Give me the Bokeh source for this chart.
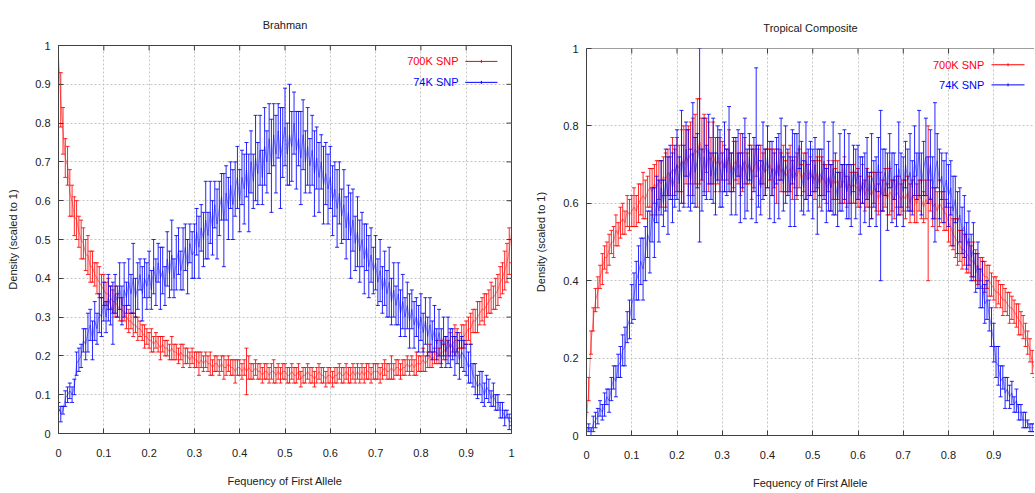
import numpy as np
from bokeh.plotting import figure
from bokeh.layouts import row, column, Spacer
from bokeh.models import ColumnDataSource, FixedTicker, Label, Range1d, Span, Title
from bokeh.embed import file_html
from bokeh.resources import INLINE

# ---------------- data (histogram bins 0..1, step 0.005) ----------------
TITLES = ["Brahman", "Tropical Composite"]
SERIES = ["700K SNP", "74K SNP"]
X_TICKS = [0, 0.1, 0.2, 0.3, 0.4, 0.5, 0.6, 0.7, 0.8, 0.9, 1.0]
Y_TICKS_LEFT = [0, 0.1, 0.2, 0.3, 0.4, 0.5, 0.6, 0.7, 0.8, 0.9, 1.0]
Y_TICKS_RIGHT = [0, 0.2, 0.4, 0.6, 0.8, 1.0]

brahman_700k = [
    .97, .86, .78, .71, .69, .62, .60, .56, .55, .52, .50, .49, .46, .46, .43, .43, .41, .40, .39, .38,
    .37, .36, .36, .35, .34, .34, .33, .32, .32, .31, .30, .29, .29, .28, .28, .27, .27, .26, .25, .25,
    .24, .24, .23, .24, .23, .22, .23, .22, .22, .21, .22, .21, .21, .20, .21, .20, .20, .20, .19, .20,
    .19, .19, .18, .19, .18, .19, .18, .18, .17, .18, .18, .17, .18, .17, .17, .18, .17, .17, .16, .17,
    .17, .16, .17, .16, .17, .16, .16, .17, .16, .16, .15, .16, .16, .15, .16, .16, .15, .16, .15, .16,
    .16, .15, .15, .16, .15, .15, .16, .14, .15, .15, .16, .15, .15, .14, .15, .16, .15, .15, .14, .15,
    .15, .14, .15, .15, .16, .15, .15, .16, .15, .15, .16, .15, .16, .15, .16, .15, .16, .16, .15, .16,
    .16, .16, .15, .16, .17, .16, .16, .17, .16, .17, .17, .16, .17, .17, .18, .17, .18, .17, .18, .18,
    .18, .19, .18, .19, .20, .19, .20, .21, .20, .21, .21, .22, .22, .23, .23, .24, .24, .24, .25, .25,
    .26, .27, .27, .29, .29, .30, .31, .32, .32, .33, .34, .35, .35, .36, .37, .39, .40, .42, .44, .47,
    .52]
brahman_700k_err = [
    .07, .07, .06, .05, .05, .06, .04, .05, .05, .04, .05, .04, .04, .05, .04, .04, .03, .04, .04, .03,
    .04, .03, .04, .03, .03, .04, .03, .03, .03, .02, .03, .03, .02, .03, .02, .03, .02, .02, .03, .02,
    .02, .03, .02, .02, .02, .03, .02, .02, .02, .02, .03, .02, .02, .02, .02, .03, .02, .02, .02, .02,
    .02, .02, .03, .02, .02, .02, .02, .03, .02, .02, .02, .02, .02, .03, .02, .02, .02, .02, .03, .02,
    .02, .02, .02, .06, .03, .02, .02, .02, .02, .02, .02, .02, .02, .02, .02, .03, .02, .02, .02, .02,
    .02, .02, .02, .02, .02, .02, .02, .02, .02, .02, .02, .02, .02, .02, .02, .02, .02, .02, .02, .02,
    .02, .02, .02, .02, .02, .02, .02, .02, .02, .02, .02, .02, .02, .02, .02, .02, .02, .02, .02, .02,
    .02, .02, .02, .02, .02, .02, .02, .03, .02, .02, .02, .02, .02, .02, .02, .02, .02, .02, .03, .02,
    .02, .03, .02, .02, .03, .02, .02, .03, .02, .03, .02, .03, .02, .03, .02, .04, .03, .02, .03, .03,
    .03, .03, .04, .03, .03, .04, .03, .03, .04, .03, .03, .04, .03, .04, .04, .04, .04, .05, .05, .06,
    .08]
brahman_74k = [
    .07, .05, .06, .09, .10, .11, .10, .12, .18, .19, .20, .24, .23, .26, .28, .24, .29, .27, .31, .30,
    .34, .30, .35, .33, .31, .36, .34, .38, .33, .37, .35, .39, .36, .40, .35, .38, .41, .36, .40, .38,
    .41, .37, .43, .39, .44, .40, .42, .38, .45, .41, .46, .40, .44, .47, .42, .45, .48, .43, .49, .46,
    .47, .52, .48, .53, .50, .55, .51, .57, .53, .59, .54, .58, .61, .55, .62, .58, .64, .59, .63, .66,
    .60, .66, .63, .68, .62, .70, .65, .71, .67, .73, .66, .74, .70, .76, .69, .77, .72, .78, .71, .75,
    .79, .72, .77, .74, .80, .73, .76, .71, .77, .70, .74, .69, .73, .67, .71, .66, .70, .64, .67, .63,
    .66, .60, .63, .58, .62, .56, .59, .53, .57, .51, .55, .49, .52, .47, .50, .45, .48, .43, .46, .42,
    .44, .39, .42, .37, .40, .36, .39, .34, .37, .33, .36, .31, .34, .30, .33, .29, .32, .28, .30, .27,
    .30, .26, .29, .25, .28, .24, .27, .23, .26, .22, .25, .21, .24, .22, .23, .20, .22, .19, .21, .20,
    .19, .17, .18, .15, .14, .12, .13, .12, .10, .12, .11, .09, .10, .08, .08, .06, .06, .04, .05, .03,
    .03]
brahman_74k_err = [
    .01, .02, .01, .02, .02, .02, .02, .02, .03, .03, .03, .03, .04, .05, .04, .05, .05, .04, .05, .05,
    .05, .04, .06, .05, .08, .05, .04, .06, .05, .07, .04, .06, .05, .09, .05, .06, .04, .07, .05, .06,
    .06, .05, .07, .06, .05, .08, .06, .05, .07, .06, .09, .05, .07, .06, .05, .08, .06, .07, .05, .06,
    .07, .06, .08, .06, .07, .10, .06, .08, .07, .06, .09, .07, .06, .12, .07, .08, .06, .09, .07, .08,
    .08, .07, .09, .07, .10, .08, .07, .11, .08, .09, .07, .10, .08, .09, .12, .08, .10, .07, .13, .09,
    .10, .08, .13, .09, .08, .10, .07, .12, .09, .08, .10, .07, .09, .11, .08, .09, .07, .10, .08, .09,
    .08, .09, .07, .10, .08, .07, .09, .08, .07, .11, .08, .07, .09, .08, .07, .09, .06, .08, .07, .06,
    .07, .06, .08, .06, .07, .06, .09, .06, .07, .05, .08, .06, .07, .05, .06, .07, .05, .06, .05, .06,
    .06, .05, .06, .05, .07, .05, .06, .04, .06, .05, .05, .04, .06, .05, .04, .05, .04, .05, .04, .04,
    .04, .04, .05, .03, .04, .03, .03, .04, .03, .03, .03, .02, .03, .02, .02, .02, .02, .02, .01, .02,
    .01]

tropical_700k = [
    .04, .12, .24, .30, .35, .37, .41, .43, .46, .46, .48, .50, .50, .53, .52, .55, .56, .55, .58, .57,
    .58, .59, .58, .60, .61, .62, .61, .63, .64, .63, .65, .64, .66, .65, .67, .66, .68, .67, .69, .68,
    .70, .69, .71, .70, .72, .71, .73, .72, .74, .73, .76, .74, .73, .75, .72, .71, .73, .70, .71, .70,
    .71, .69, .70, .72, .68, .70, .71, .69, .70, .68, .71, .69, .70, .68, .69, .71, .68, .70, .69, .68,
    .69, .70, .68, .69, .67, .70, .68, .69, .67, .68, .69, .66, .68, .67, .69, .66, .68, .67, .66, .67,
    .67, .66, .68, .65, .67, .66, .65, .67, .64, .66, .65, .66, .64, .65, .66, .63, .65, .64, .65, .64,
    .64, .63, .65, .62, .64, .63, .62, .64, .63, .61, .63, .62, .64, .61, .63, .62, .61, .63, .62, .61,
    .62, .61, .63, .60, .62, .61, .60, .62, .61, .59, .61, .60, .62, .59, .60, .58, .60, .59, .58, .57,
    .55, .54, .52, .51, .50, .49, .48, .48, .47, .46, .45, .45, .44, .43, .43, .42, .41, .41, .40, .39,
    .38, .37, .37, .36, .35, .35, .34, .33, .33, .32, .31, .30, .29, .28, .26, .24, .22, .19, .17, .15,
    .12]
tropical_700k_err = [
    .02, .03, .03, .03, .03, .04, .03, .04, .03, .04, .04, .03, .04, .04, .03, .04, .04, .03, .04, .04,
    .04, .05, .04, .05, .04, .06, .05, .04, .05, .06, .05, .07, .05, .06, .05, .07, .06, .05, .08, .06,
    .07, .06, .08, .10, .07, .09, .08, .10, .09, .14, .11, .08, .10, .07, .09, .06, .08, .07, .06, .07,
    .05, .06, .04, .07, .05, .06, .05, .04, .08, .05, .06, .04, .05, .07, .05, .04, .06, .05, .04, .06,
    .05, .04, .06, .05, .07, .04, .05, .06, .04, .05, .06, .05, .04, .06, .05, .04, .05, .06, .04, .05,
    .04, .05, .04, .06, .05, .04, .05, .04, .06, .05, .04, .05, .04, .05, .06, .04, .05, .04, .05, .04,
    .05, .04, .05, .04, .05, .04, .06, .04, .05, .04, .05, .04, .05, .04, .06, .04, .05, .04, .05, .04,
    .04, .05, .04, .05, .04, .06, .05, .04, .05, .04, .05, .20, .04, .05, .04, .05, .06, .04, .05, .04,
    .05, .05, .04, .05, .06, .04, .05, .04, .05, .04, .04, .05, .04, .04, .03, .04, .04, .03, .04, .03,
    .03, .04, .03, .03, .04, .03, .03, .04, .03, .03, .03, .04, .03, .03, .03, .03, .03, .03, .02, .02,
    .02]
tropical_74k = [
    .01, .02, .01, .03, .04, .05, .07, .06, .08, .10, .09, .12, .15, .14, .18, .19, .22, .23, .28, .30,
    .34, .36, .40, .42, .45, .43, .47, .52, .50, .57, .55, .61, .58, .64, .60, .66, .62, .68, .64, .67,
    .70, .65, .72, .67, .74, .69, .66, .73, .68, .71, .75, .66, .72, .68, .74, .67, .71, .65, .73, .69,
    .66, .72, .68, .74, .65, .70, .67, .73, .64, .71, .69, .66, .72, .65, .70, .75, .67, .64, .71, .68,
    .72, .66, .69, .64, .71, .67, .74, .65, .70, .68, .63, .72, .66, .70, .75, .67, .64, .71, .66, .69,
    .65, .70, .63, .68, .66, .71, .62, .67, .64, .69, .65, .61, .68, .64, .70, .63, .67, .62, .69, .65,
    .68, .62, .66, .64, .69, .61, .67, .65, .63, .70, .62, .66, .68, .63, .71, .64, .67, .62, .69, .66,
    .63, .70, .66, .68, .64, .71, .67, .73, .65, .69, .72, .66, .70, .64, .68, .71, .65, .67, .63, .66,
    .62, .64, .58, .61, .55, .57, .53, .54, .49, .51, .46, .48, .42, .44, .38, .39, .34, .35, .31, .28,
    .24, .19, .18, .14, .15, .11, .12, .10, .11, .08, .09, .06, .06, .04, .04, .03, .02, .02, .02, .01,
    .01]
tropical_74k_err = [
    .01, .01, .01, .02, .02, .02, .02, .02, .03, .02, .03, .03, .03, .04, .03, .04, .04, .05, .04, .05,
    .05, .06, .05, .07, .06, .08, .07, .06, .08, .07, .09, .06, .08, .07, .06, .08, .10, .07, .09, .08,
    .09, .07, .12, .08, .07, .10, .08, .13, .09, .07, .25, .08, .10, .07, .09, .06, .11, .08, .07, .10,
    .07, .09, .06, .11, .08, .07, .10, .06, .09, .07, .13, .08, .06, .09, .07, .20, .08, .07, .10, .06,
    .08, .10, .07, .09, .06, .11, .08, .07, .10, .06, .09, .07, .12, .08, .06, .09, .07, .10, .08, .07,
    .09, .07, .11, .06, .08, .10, .07, .09, .06, .12, .08, .07, .10, .06, .09, .07, .11, .08, .06, .09,
    .07, .10, .06, .09, .08, .07, .11, .06, .09, .07, .22, .08, .06, .10, .07, .09, .06, .08, .12, .07,
    .09, .06, .08, .10, .07, .09, .06, .11, .08, .07, .10, .06, .09, .08, .18, .07, .09, .06, .08, .07,
    .08, .07, .09, .06, .08, .07, .06, .08, .06, .07, .06, .07, .05, .06, .05, .06, .05, .05, .04, .05,
    .05, .04, .05, .04, .03, .04, .03, .03, .03, .02, .03, .02, .02, .02, .02, .01, .01, .01, .01, .01,
    .01]

# ---------------- styling ----------------
FONT = "Liberation Sans"
RED = "#ff0000"
BLUE = "#0000ff"
AXIS_COL = "#404040"
TEXT_COL = "#202020"
GRID_COL = "#c4c4c4"
FS = "11px"


def draw_series(p, vals, errs, color):
    v = np.asarray(vals, dtype=float)
    e = np.asarray(errs, dtype=float)
    x = np.linspace(0.0, 1.0, len(v))
    src = ColumnDataSource(dict(x=x, y=v, lo=v - e, hi=v + e))
    p.line("x", "y", source=src, line_color=color, line_alpha=0.45, line_width=1)
    p.segment(x0="x", y0="lo", x1="x", y1="hi", source=src, line_color=color,
              line_alpha=0.85, line_width=1)
    p.scatter("x", "lo", source=src, marker="dash", size=4, line_color=color, line_alpha=0.85)
    p.scatter("x", "hi", source=src, marker="dash", size=4, line_color=color, line_alpha=0.85)


def style_axis(ax, ticks, label, label_standoff, axis_label_standoff):
    ax.ticker = FixedTicker(ticks=ticks)
    ax.major_label_overrides = {t: ("%g" % t) for t in ticks}
    ax.major_tick_in = 5
    ax.major_tick_out = 0
    ax.minor_tick_in = 0
    ax.minor_tick_out = 0
    ax.major_tick_line_color = AXIS_COL
    ax.axis_line_color = AXIS_COL
    ax.major_label_text_font = FONT
    ax.major_label_text_font_size = FS
    ax.major_label_text_color = TEXT_COL
    ax.axis_label = label
    ax.axis_label_text_font = FONT
    ax.axis_label_text_font_size = FS
    ax.axis_label_text_font_style = "normal"
    ax.axis_label_text_color = TEXT_COL
    ax.major_label_standoff = label_standoff
    ax.axis_label_standoff = axis_label_standoff


def make_panel(title, red, red_err, blue, blue_err, frame, borders, xend, yticks,
               legend_xy, mirror_right, title_standoff):
    fw, fh = frame
    bl, br, bt, bb = borders
    p = figure(frame_width=fw, frame_height=fh, x_range=Range1d(0, xend), y_range=Range1d(0, 1),
               output_backend="svg", toolbar_location=None,
               min_border_left=bl, min_border_right=br, min_border_top=bt, min_border_bottom=bb,
               background_fill_color="white", border_fill_color="white")
    p.title = None
    p.add_layout(Title(text=title, align="center", text_font=FONT, text_font_size=FS,
                       text_font_style="normal", text_color=TEXT_COL,
                       standoff=title_standoff), "above")

    xa = p.below[0]
    ya = p.left[0]
    style_axis(xa, X_TICKS, "Fequency of First Allele", 15, 15)
    style_axis(ya, yticks, "Density (scaled to 1)", 8, 13)

    p.xgrid.ticker = FixedTicker(ticks=X_TICKS)
    p.ygrid.ticker = FixedTicker(ticks=yticks)
    for g in (p.xgrid[0], p.ygrid[0]):
        g.grid_line_color = GRID_COL
        g.grid_line_dash = "2 2"
        g.grid_line_width = 1

    draw_series(p, red, red_err, RED)
    draw_series(p, blue, blue_err, BLUE)

    # mirrored inward ticks on the top (and right) edge, gnuplot style
    p.scatter(x=X_TICKS, y=[1.0] * len(X_TICKS), marker="dash", angle=np.pi / 2, size=10,
              line_color=AXIS_COL)
    if mirror_right:
        p.scatter(x=[1.0] * len(yticks), y=yticks, marker="dash", size=10, line_color=AXIS_COL)
        p.outline_line_color = AXIS_COL
    else:
        p.outline_line_color = None
        p.add_layout(Span(location=1.0, dimension="width", line_color=AXIS_COL, line_width=1))

    # legend (text right-aligned, sample line to its right)
    tx, sx0, sx1, y1, y2 = legend_xy
    for name, col, yy in ((SERIES[0], RED, y1), (SERIES[1], BLUE, y2)):
        p.add_layout(Label(x=tx, y=yy, text=name, text_align="right", text_baseline="middle",
                           text_color=col, text_font=FONT, text_font_size=FS))
        p.segment(x0=[sx0], y0=[yy], x1=[sx1], y1=[yy], line_color=col, line_width=1)
        p.scatter(x=[(sx0 + sx1) / 2], y=[yy], marker="dash", size=3, angle=np.pi / 2,
                  line_color=col)
    return p


p1 = make_panel(TITLES[0], brahman_700k, brahman_700k_err, brahman_74k, brahman_74k_err,
                (453, 388), (50, 21, 45, 51), 1.0, Y_TICKS_LEFT,
                (0.883, 0.898, 0.969, 0.959, 0.905), True, 30)
p2 = make_panel(TITLES[1], tropical_700k, tropical_700k_err, tropical_74k, tropical_74k_err,
                (448, 387), (49, 0, 45, 49), 0.99, Y_TICKS_RIGHT,
                (0.879, 0.895, 0.968, 0.958, 0.906), False, 30)

layout = row(Spacer(width=4), p1, column(Spacer(height=3), p2))
open("out.html", "w").write(file_html(layout, INLINE))
